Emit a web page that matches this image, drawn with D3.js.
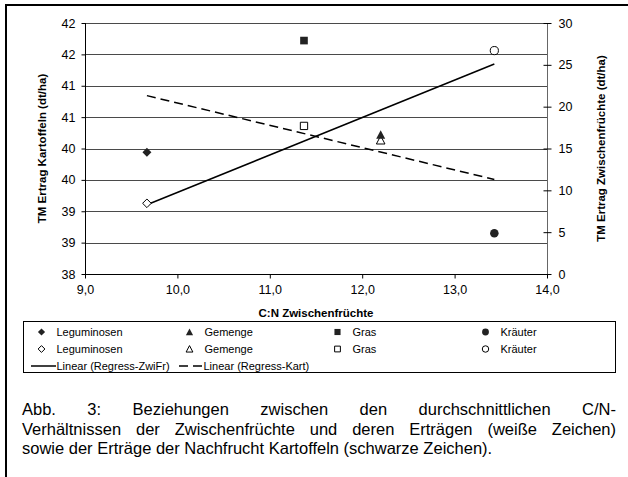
<!DOCTYPE html>
<html>
<head>
<meta charset="utf-8">
<script src="https://cdn.jsdelivr.net/npm/d3@7"></script>
<style>
  html, body { margin: 0; padding: 0; background: #fff; }
  svg { display: block; font-family: "Liberation Sans", Arial, sans-serif; }
</style>
</head>
<body>
<svg id="chart" width="628" height="477"></svg>
<script>
// Cover-crop groups, in legend order
const groups = ["Leguminosen", "Gemenge", "Gras", "Kräuter"];
// Mean C:N ratio of each cover crop group
const cnRatio = [9.67, 12.20, 11.37, 13.43];
// Dry-matter yield of the following potato crop (dt/ha, left axis)
const ertragKartoffeln = [39.94, 40.22, 41.72, 38.65];
// Dry-matter yield of the cover crops (dt/ha, right axis)
const ertragZwischenfruechte = [8.45, 16.0, 17.7, 26.7];

const xTicks = [9, 10, 11, 12, 13, 14];
const xTickLabels = ["9,0", "10,0", "11,0", "12,0", "13,0", "14,0"];
const leftTicks = [38, 38.5, 39, 39.5, 40, 40.5, 41, 41.5, 42];
const leftTickLabels = ["38", "39", "39", "40", "40", "41", "41", "42", "42"];
const rightTicks = [0, 5, 10, 15, 20, 25, 30];
const rightTickLabels = ["0", "5", "10", "15", "20", "25", "30"];

const captionLines = [
  "Abb. 3: Beziehungen zwischen den durchschnittlichen C/N-",
  "Verhältnissen der Zwischenfrüchte und deren Erträgen (weiße Zeichen)",
  "sowie der Erträge der Nachfrucht Kartoffeln (schwarze Zeichen)."
];

const svg = d3.select("#chart");
const plot = { left: 85, right: 547, top: 23, bottom: 274 };

const x = d3.scaleLinear().domain([9, 14]).range([plot.left, plot.right]);
const yL = d3.scaleLinear().domain([38, 42]).range([plot.bottom, plot.top]);
const yR = d3.scaleLinear().domain([0, 30]).range([plot.bottom, plot.top]);

// Page frame
svg.append("path")
  .attr("d", "M6,477 V5 H628")
  .attr("fill", "none").attr("stroke", "#000").attr("stroke-width", 2);

// Horizontal gridlines at the left-axis ticks
svg.append("g").selectAll("line").data(leftTicks).join("line")
  .attr("x1", plot.left).attr("x2", plot.right)
  .attr("y1", d => Math.round(yL(d)) + 0.5).attr("y2", d => Math.round(yL(d)) + 0.5)
  .attr("stroke", "#4a4a4a").attr("stroke-width", 1);

// Axes
const fmtIdx = (ticks, labels) => d => labels[ticks.indexOf(d)];

const gx = svg.append("g").attr("transform", `translate(0,${plot.bottom + 0.5})`)
  .call(d3.axisBottom(x).tickValues(xTicks).tickFormat(fmtIdx(xTicks, xTickLabels)).tickSize(4).tickPadding(7));
const gl = svg.append("g").attr("transform", `translate(${plot.left + 0.5},0)`)
  .call(d3.axisLeft(yL).tickValues(leftTicks).tickFormat(fmtIdx(leftTicks, leftTickLabels)).tickSize(4).tickPadding(6));
const gr = svg.append("g").attr("transform", `translate(${plot.right + 0.5},0)`)
  .call(d3.axisRight(yR).tickValues(rightTicks).tickFormat(fmtIdx(rightTicks, rightTickLabels)).tickSize(4).tickPadding(7));
gr.selectAll(".tick line").attr("x1", -4);

[gx, gl, gr].forEach(g => {
  g.selectAll(".domain").attr("stroke", "#000");
  g.selectAll("text").attr("font-family", "Liberation Sans, Arial, sans-serif")
    .attr("font-size", 12.5).attr("fill", "#000");
  g.selectAll(".tick line").attr("stroke", "#000");
});
gx.select(".domain").attr("d", `M${plot.left},0H${plot.right}`);
gl.select(".domain").attr("d", `M0,${plot.top}V${plot.bottom}`);
gr.select(".domain").attr("d", `M0,${plot.top}V${plot.bottom}`).attr("stroke", "#666");

// Axis titles
const titleSize = 11.5;
svg.append("text")
  .attr("transform", `translate(${(plot.left + plot.right) / 2},317)`)
  .attr("text-anchor", "middle").attr("font-size", titleSize).attr("font-weight", "bold")
  .text("C:N Zwischenfrüchte");
svg.append("text")
  .attr("transform", `translate(46,${(plot.top + plot.bottom) / 2}) rotate(-90)`)
  .attr("text-anchor", "middle").attr("font-size", titleSize).attr("font-weight", "bold")
  .text("TM Ertrag Kartoffeln (dt/ha)");
svg.append("text")
  .attr("transform", `translate(605,${(plot.top + plot.bottom) / 2}) rotate(-90)`)
  .attr("text-anchor", "middle").attr("font-size", titleSize).attr("font-weight", "bold")
  .text("TM Ertrag Zwischenfrüchte (dt/ha)");

// Least-squares trend line over the observed x range
function trend(xs, ys) {
  const mx = d3.mean(xs), my = d3.mean(ys);
  const b = d3.sum(xs, (v, i) => (v - mx) * (ys[i] - my)) / d3.sum(xs, v => (v - mx) ** 2);
  const a = my - b * mx;
  const [x0, x1] = d3.extent(xs);
  return [[x0, a + b * x0], [x1, a + b * x1]];
}
const line = ys => d3.line().x(d => x(d[0])).y(d => ys(d[1]));

svg.append("path").datum(trend(cnRatio, ertragZwischenfruechte))
  .attr("d", line(yR)).attr("fill", "none").attr("stroke", "#000").attr("stroke-width", 1.5);
svg.append("path").datum(trend(cnRatio, ertragKartoffeln))
  .attr("d", line(yL)).attr("fill", "none").attr("stroke", "#000").attr("stroke-width", 1.5)
  .attr("stroke-dasharray", "9,5");

// Marker shapes per group
function shape(group, r) {
  switch (group) {
    case "Leguminosen": return `M0,${-r}L${r},0L0,${r}L${-r},0Z`;
    case "Gemenge": return `M0,${-r}L${r},${r * 0.9}L${-r},${r * 0.9}Z`;
    case "Gras": return `M${-r * 0.85},${-r * 0.85}H${r * 0.85}V${r * 0.85}H${-r * 0.85}Z`;
    default: return d3.arc()({ innerRadius: 0, outerRadius: r * 0.95, startAngle: 0, endAngle: 2 * Math.PI });
  }
}

// Cover-crop yields: open markers
svg.append("g").selectAll("path").data(groups).join("path")
  .attr("transform", (g, i) => `translate(${x(cnRatio[i])},${yR(ertragZwischenfruechte[i])})`)
  .attr("d", g => shape(g, 4.3))
  .attr("fill", "#fff").attr("stroke", "#000").attr("stroke-width", 1);

// Potato yields: filled markers
svg.append("g").selectAll("path").data(groups).join("path")
  .attr("transform", (g, i) => `translate(${x(cnRatio[i])},${yL(ertragKartoffeln[i])})`)
  .attr("d", g => shape(g, 4.5))
  .attr("fill", "#222").attr("stroke", "none");

// Legend
const legend = svg.append("g");
legend.append("rect").attr("x", 23.5).attr("y", 321.5).attr("width", 592).attr("height", 51)
  .attr("fill", "#fff").attr("stroke", "#000").attr("stroke-width", 1);
const colW = 148, rowY = [332, 349, 366], legSize = 11;
groups.forEach((g, i) => {
  const cx = 41.5 + i * colW;
  legend.append("path").attr("transform", `translate(${cx},${rowY[0]})`)
    .attr("d", shape(g, 3.6)).attr("fill", "#222");
  legend.append("path").attr("transform", `translate(${cx},${rowY[1]})`)
    .attr("d", shape(g, 3.4)).attr("fill", "#fff").attr("stroke", "#000");
  [0, 1].forEach(r => legend.append("text").attr("x", cx + 15).attr("y", rowY[r] + 4)
    .attr("font-size", legSize).text(g));
});
legend.append("line").attr("x1", 31).attr("x2", 56).attr("y1", rowY[2]).attr("y2", rowY[2])
  .attr("stroke", "#000").attr("stroke-width", 1.5);
legend.append("text").attr("x", 56.5).attr("y", rowY[2] + 4).attr("font-size", legSize)
  .text("Linear (Regress-ZwiFr)");
legend.append("line").attr("x1", 179).attr("x2", 203).attr("y1", rowY[2]).attr("y2", rowY[2])
  .attr("stroke", "#000").attr("stroke-width", 1.5).attr("stroke-dasharray", "9,5");
legend.append("text").attr("x", 203.5).attr("y", rowY[2] + 4).attr("font-size", legSize)
  .text("Linear (Regress-Kart)");

// Caption: one text per line, justified through word-spacing except the last
// line; the size is chosen so the second line fills the width naturally.
const cap = { left: 22, right: 616, top: 415, lead: 19.5 };
const probe = svg.append("text").attr("font-size", 20).text(captionLines[1]);
cap.size = Math.min(16.5, 20 * (cap.right - cap.left) / probe.node().getComputedTextLength());
probe.remove();

captionLines.forEach((ln, li) => {
  const t = svg.append("text").attr("x", cap.left).attr("y", cap.top + li * cap.lead)
    .attr("font-size", cap.size).text(ln);
  if (li < captionLines.length - 1) {
    const extra = (cap.right - cap.left - t.node().getComputedTextLength()) / (ln.split(" ").length - 1);
    t.attr("word-spacing", extra);
  }
});
</script>
</body>
</html>
